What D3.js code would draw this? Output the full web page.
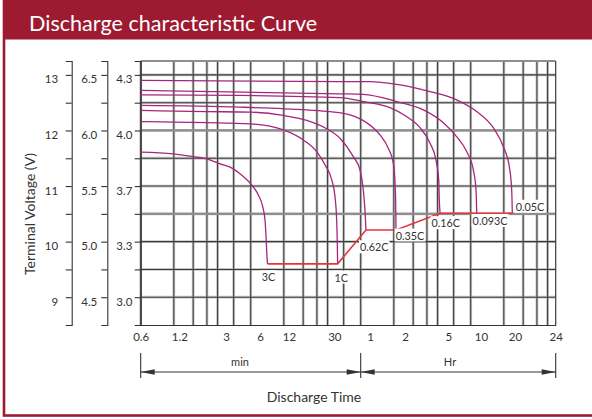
<!DOCTYPE html>
<html>
<head>
<meta charset="utf-8">
<script src="https://cdn.jsdelivr.net/npm/d3@7"></script>
<style>
  html, body { margin: 0; padding: 0; background: #fff; }
  svg { display: block; font-family: Lato, "Open Sans", sans-serif; }
</style>
</head>
<body>
<svg id="chart" width="592" height="419"></svg>
<script>
// discharge curves, [minutes, volts on the 12V scale]
const rates = ["3C", "1C", "0.62C", "0.35C", "0.16C", "0.093C", "0.05C"];
const curve3C = [[0.6,11.61],[1.08,11.58],[1.58,11.53],[2.05,11.49],[2.67,11.40],[3.48,11.31],[4.27,11.17],[5.06,11.02],[5.8,10.84],[6.4,10.63],[6.76,10.39],[6.93,10.09],[7.09,9.73],[7.18,9.6]];
const curve1C = [[0.6,12.16],[1.08,12.15],[2.05,12.14],[4.89,12.12],[10.5,12.01],[16,11.83],[21,11.62],[24.9,11.38],[28.5,11.11],[30.4,10.81],[31.4,10.39],[31.8,9.97],[32,9.6]];
const curve062C = [[0.6,12.36],[2.05,12.34],[4.89,12.33],[10.5,12.27],[17.2,12.18],[25.7,12.03],[33.5,11.86],[43.4,11.53],[49.4,11.29],[52.7,10.93],[54.4,10.57],[55.5,10.21]];
const curve035C = [[0.6,12.45],[4,12.42],[17.2,12.37],[27.5,12.34],[40.7,12.28],[56.3,12.14],[73.1,11.92],[86.2,11.68],[95.2,11.41],[98.5,11.05],[99.8,10.69],[100.4,10.21]];
const curve016C = [[0.6,12.64],[4,12.63],[33.5,12.59],[52.7,12.52],[89.2,12.41],[124,12.25],[165,12.05],[204,11.77],[231,11.47],[245,11.11],[248,10.75],[252,10.51]];
const curve0093C = [[0.6,12.72],[33.5,12.66],[52.7,12.65],[102,12.52],[177,12.37],[270,12.14],[358,11.89],[443,11.62],[510,11.29],[540,10.93],[548,10.51]];
const curve005C = [[0.6,12.90],[33.5,12.88],[60,12.88],[102,12.83],[204,12.70],[358,12.55],[548,12.34],[771,12.05],[945,11.71],[1068,11.35],[1122,10.93],[1136,10.51]];
const curves = [curve3C, curve1C, curve062C, curve035C, curve016C, curve0093C, curve005C];

// axis ticks
const timeTicks = [0.6, 1.2, 3, 6, 12, 30, 60, 120, 300, 600, 1200, 1440]; // minutes
const timeLabels = ["0.6", "1.2", "3", "6", "12", "30", "1", "2", "5", "10", "20", "24"];
const voltTicks = [9, 10, 11, 12, 13];
const voltLabels12 = ["9", "10", "11", "12", "13"];
const voltLabels6 = ["4.5", "5.0", "5.5", "6.0", "6.5"];
const voltLabels4 = ["3.0", "3.3", "3.7", "4.0", "4.3"];

// layout
const plot = { left: 140.7, top: 61, right: 555.7, bottom: 325 };
const tickOffsets = [0, 38.6, 85.3, 119.3, 148.3, 193.6, 229.3, 264.3, 307.6, 340.3, 374.3, 415];
const labelOffsets = [[1, 13.6], [3.7, 13.8], [8.3, 17.4], [14, 5.7], [5.7, 10], [13.3, 7.8], [17.7, -6.4]];
const red = '#9d1a31';

const svg = d3.select('#chart');

// log paper labels are not evenly spaced, so the time scale is piecewise
const x = d3.scaleLog().domain(timeTicks).range(tickOffsets.map(d => plot.left + d));
const paper = d3.scaleLog().domain([1, 10]).range([plot.left, plot.left + 110]);
const y = d3.scaleLinear().domain([8.5, 13.25]).range([plot.bottom, plot.top]);

// frame and title
svg.append('rect').attr('x', 4).attr('y', -4).attr('width', 600).attr('height', 419.5)
  .attr('fill', 'none').attr('stroke', red).attr('stroke-width', 2.6);
svg.append('rect').attr('x', 3).attr('y', 0).attr('width', 589).attr('height', 39.5).attr('fill', red);
svg.append('text').attr('x', 29).attr('y', 31).attr('fill', '#fff')
  .attr('font-size', 21.6).text('Discharge characteristic Curve');

// grid
const gridX = [];
for (let n = 0; n < 4; n++) {
  [1, 2, 3, 4, 5, 7].forEach(k => {
    const v = k * Math.pow(10, n);
    if (paper(v) < plot.right - 2) gridX.push(v);
  });
}
const gridY = d3.range(9, 13.01, 0.5);
const grayY = [12, 10.5];

const grid = svg.append('g');
grid.selectAll('line.hx').data(gridX).enter().append('line')
  .attr('x1', d => paper(d)).attr('x2', d => paper(d))
  .attr('y1', plot.top).attr('y2', plot.bottom)
  .attr('stroke', '#c6c6c6').attr('stroke-width', 2.8);
grid.selectAll('line.hy').data(gridY).enter().append('line')
  .attr('x1', plot.left).attr('x2', plot.right)
  .attr('y1', d => y(d)).attr('y2', d => y(d))
  .attr('stroke', '#c6c6c6').attr('stroke-width', 2.8);
grid.selectAll('line.vx').data(gridX).enter().append('line')
  .attr('x1', d => paper(d)).attr('x2', d => paper(d))
  .attr('y1', plot.top).attr('y2', plot.bottom)
  .attr('stroke', '#3a3a3a').attr('stroke-width', 1.05);
grid.selectAll('line.vy').data(gridY).enter().append('line')
  .attr('x1', plot.left).attr('x2', plot.right)
  .attr('y1', d => y(d)).attr('y2', d => y(d))
  .attr('stroke', d => grayY.includes(d) ? '#8e8e8e' : '#3a3a3a')
  .attr('stroke-width', d => grayY.includes(d) ? 2.2 : 1.05);
// top and right edges
grid.append('line').attr('x1', plot.left).attr('x2', plot.right)
  .attr('y1', plot.top).attr('y2', plot.top).attr('stroke', '#8e8e8e').attr('stroke-width', 2);
grid.append('line').attr('x1', plot.right).attr('x2', plot.right)
  .attr('y1', plot.top).attr('y2', plot.bottom).attr('stroke', '#3a3a3a').attr('stroke-width', 1.2);

// three voltage axes
const halfTicks = d3.range(9, 13.01, 0.5);
function voltAxis(xPos, labels, pad) {
  const ax = d3.axisLeft(y).tickValues(halfTicks).tickSize(6).tickSizeOuter(6).tickPadding(pad)
    .tickFormat(d => { const i = voltTicks.indexOf(d); return i < 0 ? '' : labels[i]; });
  const g = svg.append('g').attr('transform', `translate(${xPos},0)`).call(ax);
  g.selectAll('path, line').attr('stroke', '#333').attr('stroke-width', 1.1);
  g.selectAll('text').attr('font-size', 11.5).attr('fill', '#333').attr('dy', '0.7em')
    .attr('font-family', 'Lato, sans-serif');
}
voltAxis(71.7, voltLabels12, 7.6);
voltAxis(107.3, voltLabels6, 4);
voltAxis(plot.left, voltLabels4, 2.4);

svg.append('text').attr('transform', 'translate(30,214) rotate(-90)')
  .attr('text-anchor', 'middle').attr('dy', '0.35em').attr('font-size', 14).attr('fill', '#333')
  .text('Terminal Voltage (V)');

// time axis
const xAxis = d3.axisBottom(x).tickValues(timeTicks).tickSize(0).tickSizeOuter(0).tickPadding(8)
  .tickFormat((d, i) => timeLabels[i]);
const gx = svg.append('g').attr('transform', `translate(0,${plot.bottom})`).call(xAxis);
gx.select('.domain').attr('stroke', '#333').attr('stroke-width', 1.2);
gx.selectAll('text').attr('font-size', 11.5).attr('fill', '#333').attr('font-family', 'Lato, sans-serif');

// curves
const line = d3.line().x(d => x(d[0])).y(d => y(d[1])).curve(d3.curveMonotoneX);
svg.append('g').selectAll('path').data(curves).enter().append('path')
  .attr('d', line).attr('fill', 'none').attr('stroke', '#a6267f').attr('stroke-width', 1.3);

// end-of-discharge line through curve ends
const ends = curves.map(c => c[c.length - 1]);
svg.append('path').datum(ends)
  .attr('d', d3.line().x(d => x(d[0])).y(d => y(d[1])))
  .attr('fill', 'none').attr('stroke', '#e5343f').attr('stroke-width', 1.6);

// rate labels on white patches
const lab = svg.append('g').selectAll('g').data(rates).enter().append('g')
  .attr('transform', (d, i) => `translate(${x(ends[i][0]) + labelOffsets[i][0]},${y(ends[i][1]) + labelOffsets[i][1]})`);
lab.append('rect').attr('fill', '#fff');
lab.append('text').attr('text-anchor', 'middle').attr('dy', '0.36em')
  .attr('font-size', 10.8).attr('fill', '#333').text(d => d);
lab.each(function () {
  const b = d3.select(this).select('text').node().getBBox();
  d3.select(this).select('rect').attr('x', b.x - 1).attr('y', b.y).attr('width', b.width + 2).attr('height', b.height);
});

// min / Hr dimension lines
const dimY = 372;
const split = paper(100);
const dim = svg.append('g').attr('stroke', '#333').attr('fill', '#333');
dim.append('line').attr('x1', plot.left).attr('x2', plot.right).attr('y1', dimY).attr('y2', dimY).attr('stroke-width', 1);
[plot.left, split, plot.right].forEach(px => {
  dim.append('line').attr('x1', px).attr('x2', px).attr('y1', 353).attr('y2', 378).attr('stroke-width', 1.1);
});
[[plot.left, 1], [split, -1], [split, 1], [plot.right, -1]].forEach(([tip, dir]) => {
  dim.append('path').attr('stroke', 'none')
    .attr('d', `M${tip},${dimY}L${tip + dir * 14},${dimY - 2.8}L${tip + dir * 14},${dimY + 2.8}Z`);
});
svg.append('text').attr('x', 240).attr('y', 365.5).attr('text-anchor', 'middle')
  .attr('font-size', 11).attr('fill', '#333').text('min');
svg.append('text').attr('x', 450).attr('y', 365.5).attr('text-anchor', 'middle')
  .attr('font-size', 11).attr('fill', '#333').text('Hr');
svg.append('text').attr('x', 314).attr('y', 401.5).attr('text-anchor', 'middle')
  .attr('font-size', 14).attr('fill', '#333').text('Discharge Time');
</script>
</body>
</html>
